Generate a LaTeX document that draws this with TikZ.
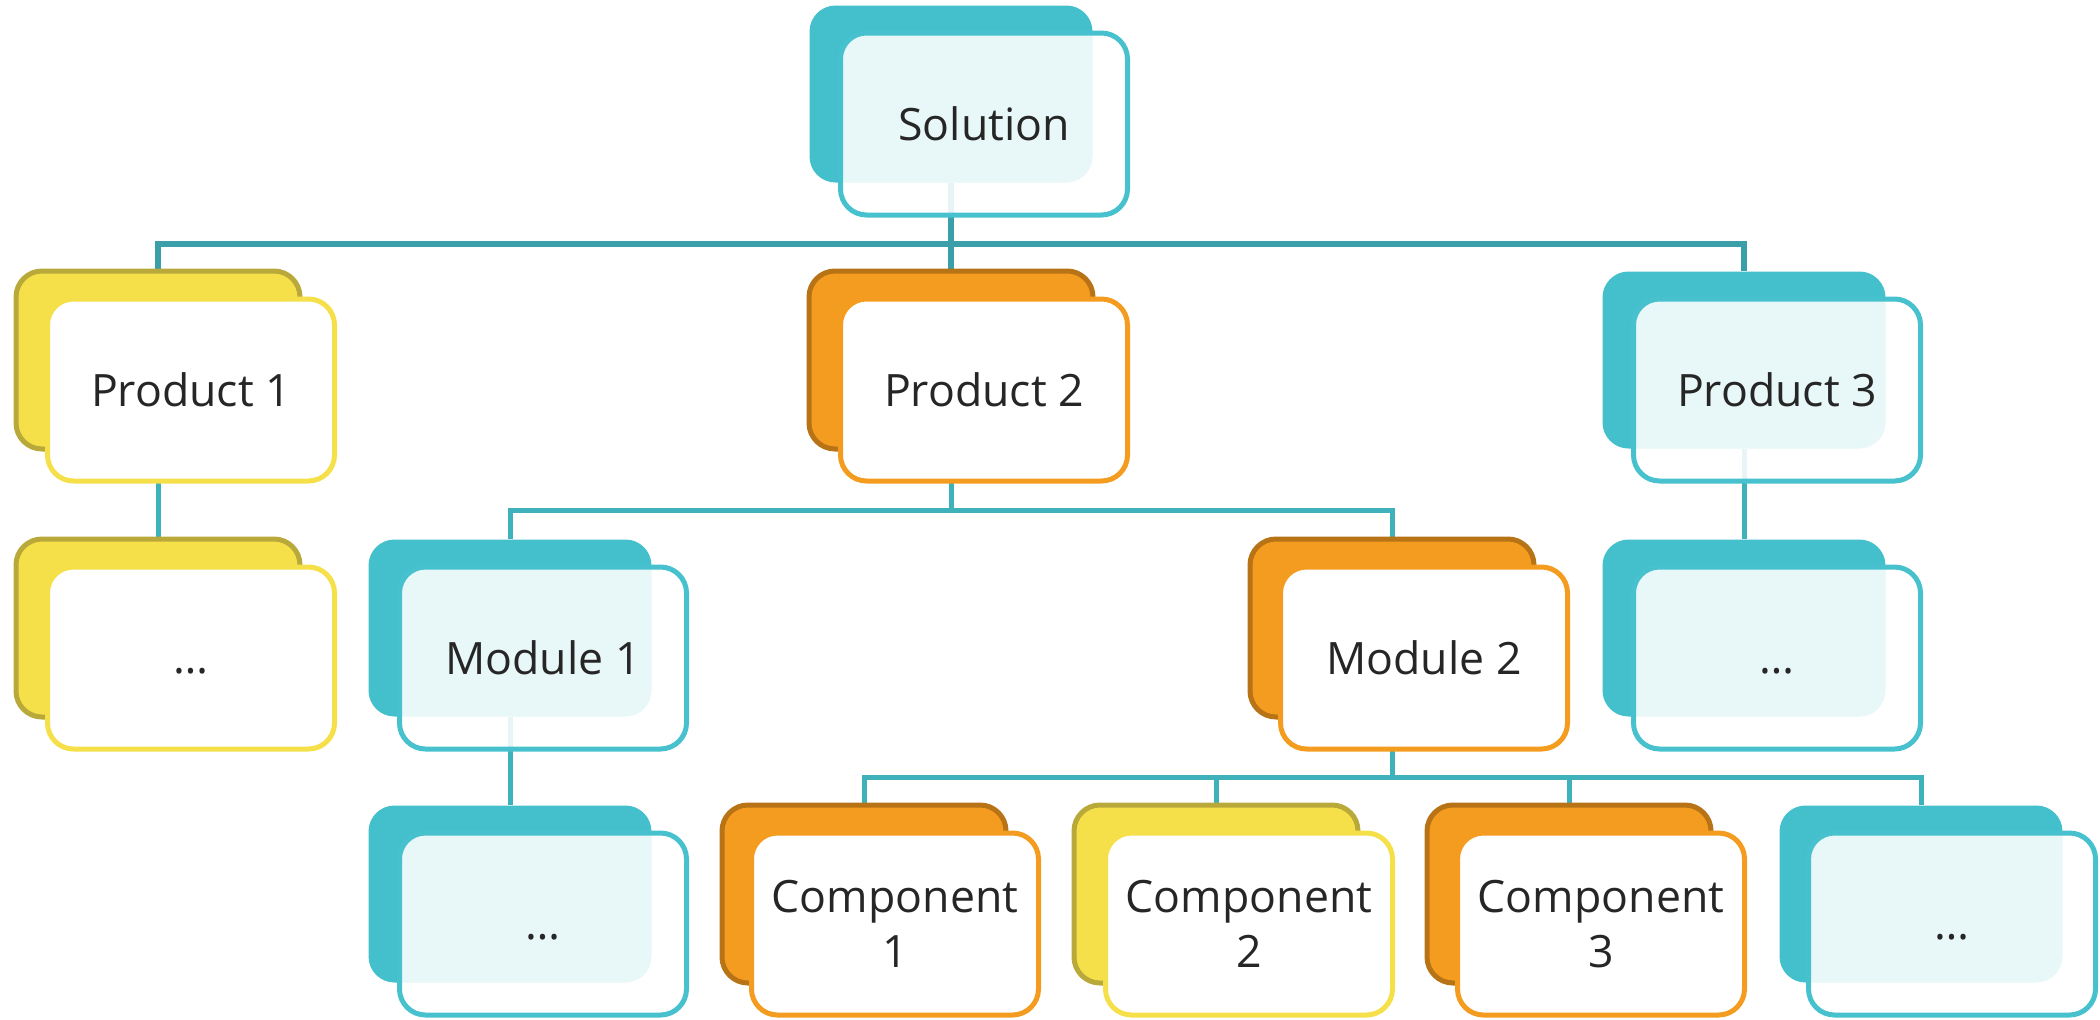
\documentclass[tikz,border=0pt]{standalone}
\usepackage{fontspec}
\setmainfont{Open Sans}
\usetikzlibrary{backgrounds}
\definecolor{tealc}{HTML}{44C0CD}
\definecolor{tealedge}{HTML}{47C1CE}
\definecolor{yellowc}{HTML}{F5E04A}
\definecolor{yellowedge}{HTML}{B9A93A}
\definecolor{orangec}{HTML}{F49C1F}
\definecolor{orangeedge}{HTML}{B87316}
\definecolor{linkc}{HTML}{3FB1BB}
\definecolor{rootc}{HTML}{3A9FA9}
\definecolor{textc}{HTML}{262626}
\begin{document}
\begin{tikzpicture}[x=0.5pt,y=-0.5pt,
  back/.style={rounded corners=13pt,minimum width=142pt,minimum height=89pt,inner sep=0pt},
  front/.style={rounded corners=13pt,minimum width=143.5pt,minimum height=91pt,inner sep=0pt,
    line width=2.5pt,font=\fontsize{22.3}{27.5}\selectfont,text=textc,align=center},
  tealback/.style={back,fill=tealc,minimum width=141.5pt,minimum height=88.5pt},
  yellowback/.style={back,fill=yellowc,draw=yellowedge,line width=2.5pt},
  orangeback/.style={back,fill=orangec,draw=orangeedge,line width=2.5pt},
  tealfront/.style={front,draw=tealedge,fill=white,fill opacity=0.88,text opacity=1},
  yellowfront/.style={front,draw=yellowc,fill=white},
  orangefront/.style={front,draw=orangec,fill=white},
  link/.style={draw=linkc,line width=2.5pt},
  rootlink/.style={draw=rootc,line width=3pt}]

  \useasboundingbox (0,0) rectangle (2100,1019);

  % level 1
  \node[tealback] (sol-b) at (951,94) {};
  \node[tealfront] (sol) at (984,124) {Solution};

  % level 2
  \node[yellowback] (p1-b) at (158,360) {};
  \node[yellowfront] (p1) at (191,390) {Product 1};
  \node[orangeback] (p2-b) at (951,360) {};
  \node[orangefront] (p2) at (984,390) {Product 2};
  \node[tealback] (p3-b) at (1744,360) {};
  \node[tealfront] (p3) at (1777,390) {Product 3};

  % level 3
  \node[yellowback] (d1-b) at (158,628) {};
  \node[yellowfront] (d1) at (191,658) {\vphantom{1}…};
  \node[tealback] (m1-b) at (510,628) {};
  \node[tealfront] (m1) at (543,658) {Module 1};
  \node[orangeback] (m2-b) at (1392,628) {};
  \node[orangefront] (m2) at (1424,658) {Module 2};
  \node[tealback] (d3-b) at (1744,628) {};
  \node[tealfront] (d3) at (1777,658) {\vphantom{1}…};

  % level 4
  \node[tealback] (d2-b) at (510,894) {};
  \node[tealfront] (d2) at (543,924) {\vphantom{1}…};
  \node[orangeback] (c1-b) at (864,894) {};
  \node[orangefront] (c1) at (895,924) {Component\\1};
  \node[yellowback] (c2-b) at (1216,894) {};
  \node[yellowfront] (c2) at (1249,924) {Component\\2};
  \node[orangeback] (c3-b) at (1569,894) {};
  \node[orangefront] (c3) at (1601,924) {Component\\3};
  \node[tealback] (d4-b) at (1921,894) {};
  \node[tealfront] (d4) at (1952,924) {\vphantom{1}…};

  % connectors, under the cards
  \begin{scope}[on background layer]
    \coordinate (bar-sol) at (951,244);
    \coordinate (bar-p2) at (951,510);
    \coordinate (bar-m2) at (1392,777);
    \draw[rootlink] (sol-b.south) -- (bar-sol) -| (p1-b.north);
    \draw[rootlink] (bar-sol) -- (p2-b.north);
    \draw[rootlink] (bar-sol) -| (p3-b.north);
    \draw[link] (p1-b.south) -- (d1-b.north);
    \draw[link] (p3-b.south) -- (d3-b.north);
    \draw[link] (p2-b.south) -- (bar-p2) -| (m1-b.north);
    \draw[link] (bar-p2) -| (m2-b.north);
    \draw[link] (m1-b.south) -- (d2-b.north);
    \draw[link] (m2-b.south) -- (bar-m2) -| (c1-b.north);
    \draw[link] (bar-m2) -| (c2-b.north);
    \draw[link] (bar-m2) -| (c3-b.north);
    \draw[link] (bar-m2) -| (d4-b.north);
  \end{scope}
\end{tikzpicture}
\end{document}
